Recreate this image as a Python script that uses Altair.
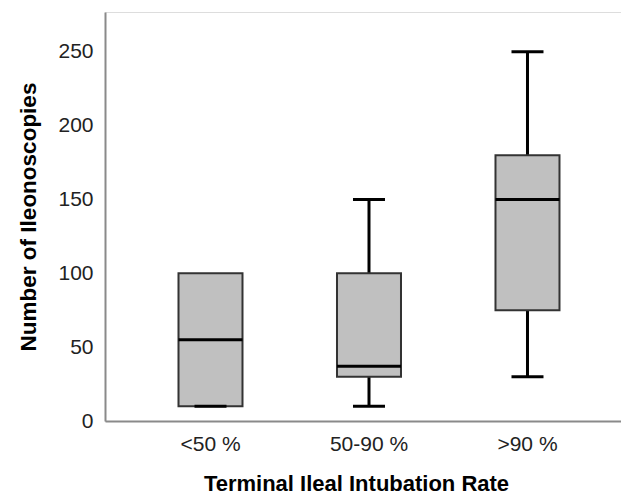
import altair as alt
import pandas as pd

categories = ["<50 %", "50-90 %", ">90 %"]
whisker_low = [10, 10, 30]
q1 = [10, 30, 75]
median = [55, 37, 150]
q3 = [100, 100, 180]
whisker_high = [100, 150, 250]
y_ticks = [0, 50, 100, 150, 200, 250]

df = pd.DataFrame({
    "cat": categories,
    "wlo": whisker_low,
    "q1": q1,
    "med": median,
    "q3": q3,
    "whi": whisker_high,
})

FONT = "Liberation Sans"

xenc = alt.X(
    "cat:N",
    sort=categories,
    scale=alt.Scale(paddingInner=0, paddingOuter=0.1278, align=0.648),
    axis=alt.Axis(
        title="Terminal Ileal Intubation Rate",
        labelAngle=0,
        ticks=False,
        labelPadding=12,
        labelFontSize=21,
        labelColor="#222222",
        labelFont=FONT,
        titleFont=FONT,
        titleFontSize=22,
        titleFontWeight="bold",
        titleColor="#000000",
        titlePadding=19,
        titleX=251,
        domainColor="#8a8a8a",
        domainWidth=2,
    ),
)
yscale = alt.Scale(domain=[0, 277], nice=False, zero=True)
yaxis = alt.Axis(
    title="Number of Ileonoscopies",
    values=y_ticks,
    ticks=False,
    grid=False,
    labelPadding=12,
    labelFontSize=21,
    labelColor="#222222",
    labelFont=FONT,
    titleFont=FONT,
    titleFontSize=22.5,
    titleFontWeight="bold",
    titleColor="#000000",
    titlePadding=17,
    domainColor="#8a8a8a",
    domainWidth=2,
)

base = alt.Chart(df)

whiskers = base.mark_rule(color="black", strokeWidth=3).encode(
    x=xenc,
    y=alt.Y("wlo:Q", scale=yscale, axis=yaxis),
    y2="whi:Q",
)
low_caps = base.mark_tick(color="black", size=32, thickness=3, opacity=1).encode(
    x=alt.X("cat:N", sort=categories), y=alt.Y("wlo:Q")
)
high_caps = base.transform_filter(alt.datum.whi > alt.datum.q3).mark_tick(
    color="black", size=32, thickness=3, opacity=1
).encode(x=alt.X("cat:N", sort=categories), y=alt.Y("whi:Q"))
boxes = base.mark_bar(size=64, fill="#c0c0c0", stroke="#333333", strokeWidth=2, opacity=1).encode(
    x=alt.X("cat:N", sort=categories), y=alt.Y("q1:Q"), y2="q3:Q"
)
medians = base.mark_tick(color="black", size=64, thickness=3, opacity=1).encode(
    x=alt.X("cat:N", sort=categories), y=alt.Y("med:Q")
)

chart = alt.layer(whiskers, high_caps, boxes, low_caps, medians).properties(
    width=516,
    height=409,
    autosize=alt.AutoSizeParams(type="none"),
    padding={"left": 97, "top": 4, "right": 0, "bottom": 74},
).configure_view(stroke=None).configure(background="white")

chart.save("out.html", embed_options={"renderer": "svg", "actions": False})
